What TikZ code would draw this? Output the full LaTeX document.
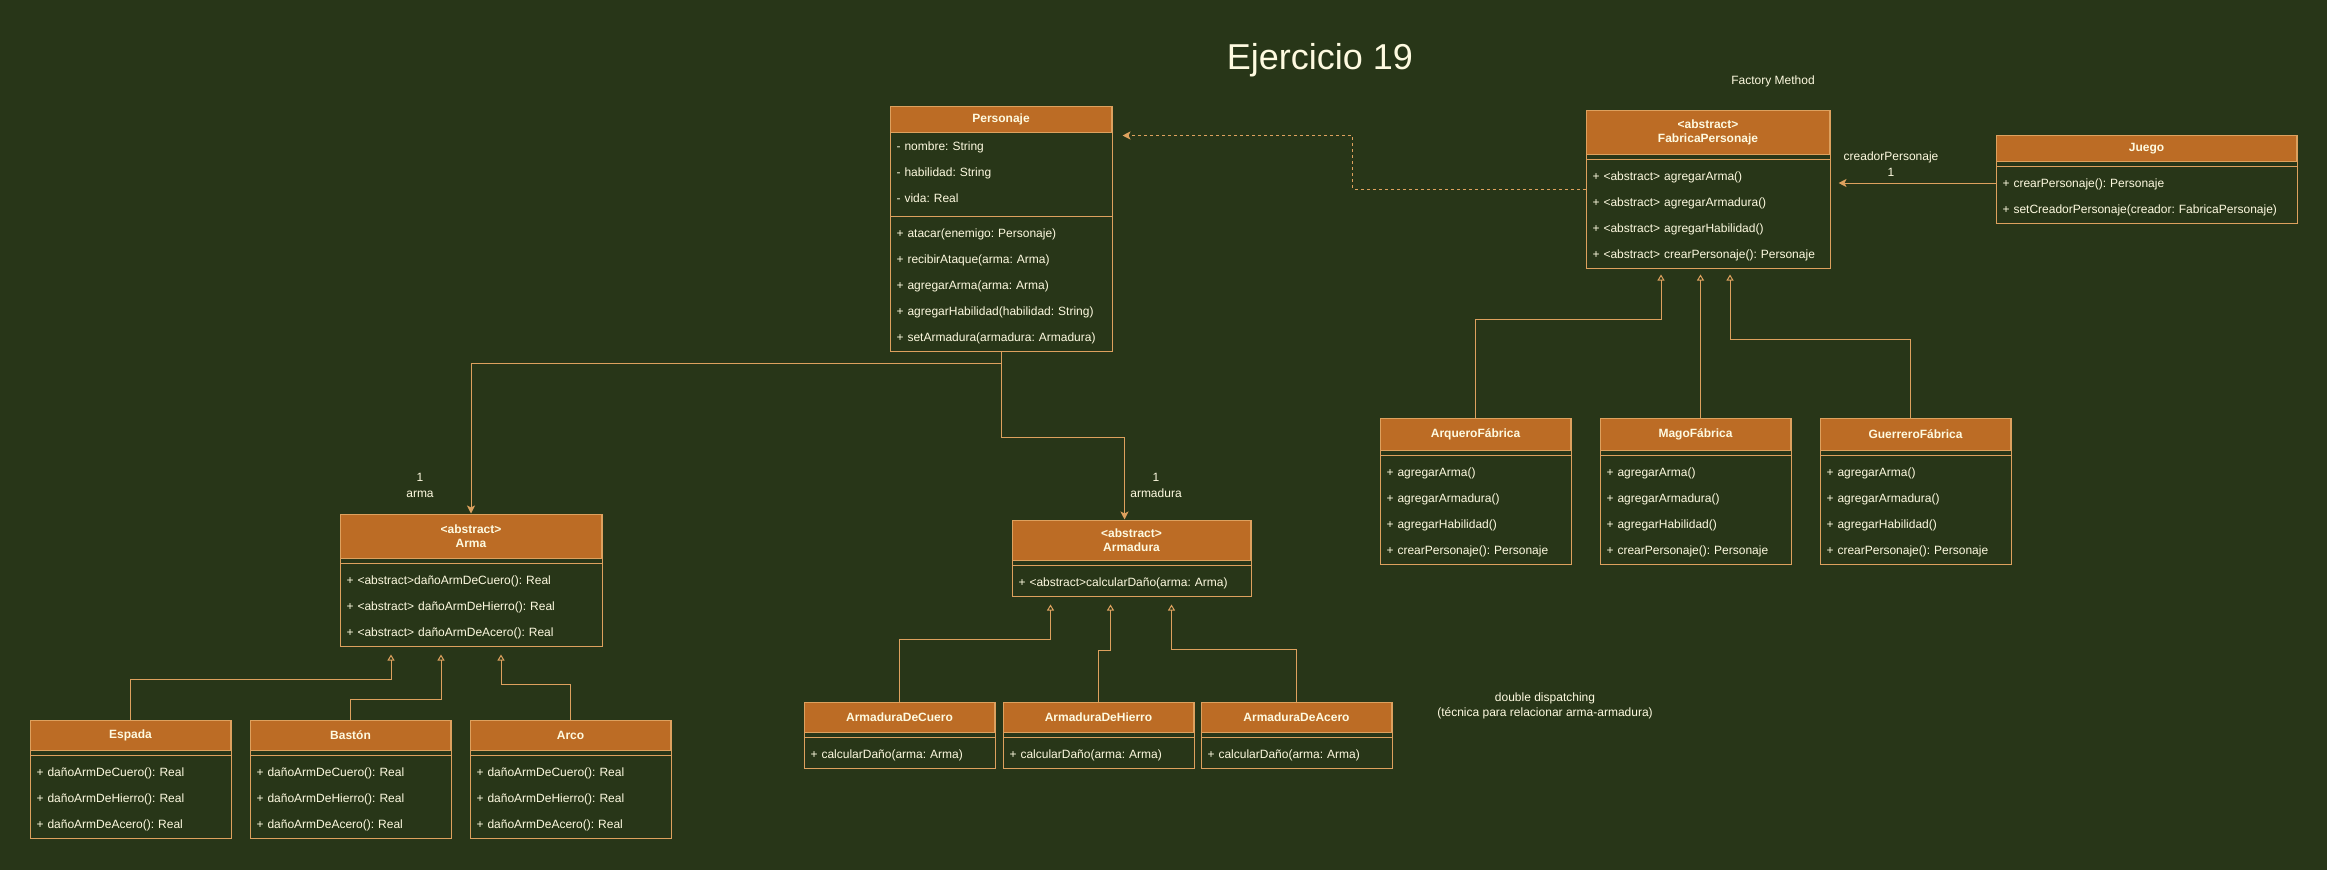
\documentclass[tikz,border=0pt]{standalone}
\usepackage{fontspec}
\setmainfont{Liberation Sans}
\usetikzlibrary{arrows.meta,fit}
\definecolor{bgcol}{HTML}{283618}
\definecolor{hdrcol}{HTML}{BC6C25}
\definecolor{linecol}{HTML}{DDA15E}
\definecolor{inkcol}{HTML}{FEFAE0}
\newcommand{\rw}{\rule[-9pt]{0pt}{26pt}}
\frenchspacing
\begin{document}
\begin{tikzpicture}[
        x=1pt, y=-1pt,
        line width=1pt,
        text=inkcol,
        font=\fontsize{12}{14.4}\selectfont
    ]
    \tikzset{
        hdr/.style = {draw=linecol, fill=hdrcol, anchor=north west, align=center, inner sep=0pt, font=\fontsize{12}{14.4}\selectfont\bfseries},
        rows/.style = {anchor=north west, align=left, inner xsep=6pt, inner ysep=0pt, font=\fontsize{12}{26}\selectfont\frenchspacing},
        classbox/.style = {draw=linecol, inner sep=0pt},
        sepline/.style = {draw=linecol},
        assoc/.style = {draw=linecol, -{Stealth[length=8pt,width=8pt,inset=2pt]}},
        dep/.style = {assoc, dash pattern=on 3pt off 3pt},
        inh/.style = {draw=linecol, -{Triangle[open,length=6pt,width=7pt]}},
        lbl/.style = {align=center, font=\fontsize{12}{16}\selectfont},
    }
        \fill[bgcol] (0,0) rectangle (2327,870);
        \useasboundingbox (0,0) rectangle (2327,870);
        \node[anchor=base, font=\fontsize{36}{40}\selectfont] (title) at (1320,69) {Ejercicio 19};
        \node[lbl] (fm) at (1773,81) {Factory Method};
        %
        \node[hdr, minimum width=221pt, minimum height=26pt] (pers-h) at (890,106) {Personaje};
        \node[rows, text width=209pt] (pers-a) at (pers-h.south west) {\rw- nombre: String\\\rw- habilidad: String\\\rw- vida: Real};
        \node[rows, text width=209pt] (pers-m) at ([yshift=-8pt]pers-a.south west) {\rw+ atacar(enemigo: Personaje)\\\rw+ recibirAtaque(arma: Arma)\\\rw+ agregarArma(arma: Arma)\\\rw+ agregarHabilidad(habilidad: String)\\\rw+ setArmadura(armadura: Armadura)};
        \node[classbox, fit=(pers-h)(pers-m)] (pers) {};
        \draw[sepline] ([yshift=-4pt]pers-a.south west) -- ([yshift=-4pt]pers-a.south east);
        %
        \node[hdr, minimum width=243pt, minimum height=44pt] (fab-h) at (1586,110) {<abstract>\\FabricaPersonaje};
        \node[rows, text width=231pt] (fab-m) at ([yshift=-8pt]fab-h.south west) {\rw+ <abstract> agregarArma()\\\rw+ <abstract> agregarArmadura()\\\rw+ <abstract> agregarHabilidad()\\\rw+ <abstract> crearPersonaje(): Personaje};
        \node[classbox, fit=(fab-h)(fab-m)] (fab) {};
        \draw[sepline] ([yshift=-4pt]fab-h.south west) -- ([yshift=-4pt]fab-h.south east);
        %
        \node[hdr, minimum width=300pt, minimum height=26pt] (jg-h) at (1996,135) {Juego};
        \node[rows, text width=288pt] (jg-m) at ([yshift=-8pt]jg-h.south west) {\rw+ crearPersonaje(): Personaje\\\rw+ setCreadorPersonaje(creador: FabricaPersonaje)};
        \node[classbox, fit=(jg-h)(jg-m)] (jg) {};
        \draw[sepline] ([yshift=-4pt]jg-h.south west) -- ([yshift=-4pt]jg-h.south east);
        %
        \node[hdr, minimum width=261pt, minimum height=44pt] (arma-h) at (340,514) {<abstract>\\Arma};
        \node[rows, text width=249pt] (arma-m) at ([yshift=-8pt]arma-h.south west) {\rw+ <abstract>dañoArmDeCuero(): Real\\\rw+ <abstract> dañoArmDeHierro(): Real\\\rw+ <abstract> dañoArmDeAcero(): Real};
        \node[classbox, fit=(arma-h)(arma-m)] (arma) {};
        \draw[sepline] ([yshift=-4pt]arma-h.south west) -- ([yshift=-4pt]arma-h.south east);
        %
        \node[hdr, minimum width=238pt, minimum height=40pt] (armd-h) at (1012,520) {<abstract>\\Armadura};
        \node[rows, text width=226pt] (armd-m) at ([yshift=-8pt]armd-h.south west) {\rw+ <abstract>calcularDaño(arma: Arma)};
        \node[classbox, fit=(armd-h)(armd-m)] (armd) {};
        \draw[sepline] ([yshift=-4pt]armd-h.south west) -- ([yshift=-4pt]armd-h.south east);
        %
        \node[hdr, minimum width=200pt, minimum height=30pt] (esp-h) at (30,720) {Espada};
        \node[rows, text width=188pt] (esp-m) at ([yshift=-8pt]esp-h.south west) {\rw+ dañoArmDeCuero(): Real\\\rw+ dañoArmDeHierro(): Real\\\rw+ dañoArmDeAcero(): Real};
        \node[classbox, fit=(esp-h)(esp-m)] (esp) {};
        \draw[sepline] ([yshift=-4pt]esp-h.south west) -- ([yshift=-4pt]esp-h.south east);
        %
        \node[hdr, minimum width=200pt, minimum height=30pt] (bas-h) at (250,720) {Bastón};
        \node[rows, text width=188pt] (bas-m) at ([yshift=-8pt]bas-h.south west) {\rw+ dañoArmDeCuero(): Real\\\rw+ dañoArmDeHierro(): Real\\\rw+ dañoArmDeAcero(): Real};
        \node[classbox, fit=(bas-h)(bas-m)] (bas) {};
        \draw[sepline] ([yshift=-4pt]bas-h.south west) -- ([yshift=-4pt]bas-h.south east);
        %
        \node[hdr, minimum width=200pt, minimum height=30pt] (arc-h) at (470,720) {Arco};
        \node[rows, text width=188pt] (arc-m) at ([yshift=-8pt]arc-h.south west) {\rw+ dañoArmDeCuero(): Real\\\rw+ dañoArmDeHierro(): Real\\\rw+ dañoArmDeAcero(): Real};
        \node[classbox, fit=(arc-h)(arc-m)] (arc) {};
        \draw[sepline] ([yshift=-4pt]arc-h.south west) -- ([yshift=-4pt]arc-h.south east);
        %
        \node[hdr, minimum width=190pt, minimum height=30pt] (cue-h) at (804,702) {ArmaduraDeCuero};
        \node[rows, text width=178pt] (cue-m) at ([yshift=-8pt]cue-h.south west) {\rw+ calcularDaño(arma: Arma)};
        \node[classbox, fit=(cue-h)(cue-m)] (cue) {};
        \draw[sepline] ([yshift=-4pt]cue-h.south west) -- ([yshift=-4pt]cue-h.south east);
        %
        \node[hdr, minimum width=190pt, minimum height=30pt] (hie-h) at (1003,702) {ArmaduraDeHierro};
        \node[rows, text width=178pt] (hie-m) at ([yshift=-8pt]hie-h.south west) {\rw+ calcularDaño(arma: Arma)};
        \node[classbox, fit=(hie-h)(hie-m)] (hie) {};
        \draw[sepline] ([yshift=-4pt]hie-h.south west) -- ([yshift=-4pt]hie-h.south east);
        %
        \node[hdr, minimum width=190pt, minimum height=30pt] (ace-h) at (1201,702) {ArmaduraDeAcero};
        \node[rows, text width=178pt] (ace-m) at ([yshift=-8pt]ace-h.south west) {\rw+ calcularDaño(arma: Arma)};
        \node[classbox, fit=(ace-h)(ace-m)] (ace) {};
        \draw[sepline] ([yshift=-4pt]ace-h.south west) -- ([yshift=-4pt]ace-h.south east);
        %
        \node[hdr, minimum width=190pt, minimum height=32pt] (arq-h) at (1380,418) {ArqueroFábrica};
        \node[rows, text width=178pt] (arq-m) at ([yshift=-8pt]arq-h.south west) {\rw+ agregarArma()\\\rw+ agregarArmadura()\\\rw+ agregarHabilidad()\\\rw+ crearPersonaje(): Personaje};
        \node[classbox, fit=(arq-h)(arq-m)] (arq) {};
        \draw[sepline] ([yshift=-4pt]arq-h.south west) -- ([yshift=-4pt]arq-h.south east);
        %
        \node[hdr, minimum width=190pt, minimum height=32pt] (mag-h) at (1600,418) {MagoFábrica};
        \node[rows, text width=178pt] (mag-m) at ([yshift=-8pt]mag-h.south west) {\rw+ agregarArma()\\\rw+ agregarArmadura()\\\rw+ agregarHabilidad()\\\rw+ crearPersonaje(): Personaje};
        \node[classbox, fit=(mag-h)(mag-m)] (mag) {};
        \draw[sepline] ([yshift=-4pt]mag-h.south west) -- ([yshift=-4pt]mag-h.south east);
        %
        \node[hdr, minimum width=190pt, minimum height=32pt] (gue-h) at (1820,418) {GuerreroFábrica};
        \node[rows, text width=178pt] (gue-m) at ([yshift=-8pt]gue-h.south west) {\rw+ agregarArma()\\\rw+ agregarArmadura()\\\rw+ agregarHabilidad()\\\rw+ crearPersonaje(): Personaje};
        \node[classbox, fit=(gue-h)(gue-m)] (gue) {};
        \draw[sepline] ([yshift=-4pt]gue-h.south west) -- ([yshift=-4pt]gue-h.south east);
        %
        \node[lbl] (mul-arma) at (420,485) {1\\arma};
        \node[lbl] (mul-armd) at (1156,485) {1\\armadura};
        \node[lbl] (mul-fab) at (1891,164) {creadorPersonaje\\1};
        \node[lbl, font=\fontsize{12}{15}\selectfont] (note) at (1545,706) {double dispatching\\(técnica para relacionar arma-armadura)};
        %
        \draw[assoc] (pers.south) -- ++(0,12) -| (arma.north);
        \draw[assoc] (pers.south) -- ++(0,86) -| ([xshift=-7pt]armd.north);
        \draw[assoc] ([yshift=-4pt]jg.west) -- ([shift={(8pt,6pt)}]fab.east);
        \draw[dep] (fab.west) -- ++(-233,0) |- ([shift={(10pt,-30pt)}]pers.north east);
        %
        \draw[inh] (esp.north) -- ++(0,-40) -| ([shift={(-80pt,-8pt)}]arma.south);
        \draw[inh] (bas.north) -- ++(0,-20) -| ([shift={(-30pt,-8pt)}]arma.south);
        \draw[inh] (arc.north) -- ++(0,-35) -| ([shift={(30pt,-8pt)}]arma.south);
        %
        \draw[inh] (cue.north) -- ++(0,-62) -| ([shift={(-81pt,-8pt)}]armd.south);
        \draw[inh] (hie.north) -- ++(0,-51) -| ([shift={(-21pt,-8pt)}]armd.south);
        \draw[inh] (ace.north) -- ++(0,-52) -| ([shift={(40pt,-8pt)}]armd.south);
        %
        \draw[inh] (arq.north) -- ++(0,-98) -| ([shift={(-47pt,-6pt)}]fab.south);
        \draw[inh] ([xshift=5pt]mag.north) -- ([shift={(-7.5pt,-6pt)}]fab.south);
        \draw[inh] ([xshift=-5pt]gue.north) -- ++(0,-78) -| ([shift={(22pt,-6pt)}]fab.south);
    \end{tikzpicture}
\end{document}
